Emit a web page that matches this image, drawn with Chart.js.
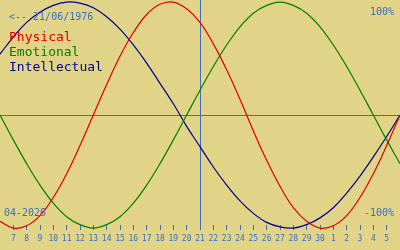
<!DOCTYPE html>
<html>
<head>
<meta charset="utf-8">
<script src="https://cdn.jsdelivr.net/npm/chart.js@4"></script>
<style>
  html, body { margin: 0; padding: 0; background: #e1d487; }
  #wrap { width: 400px; height: 250px; }
</style>
</head>
<body>
<div id="wrap"><canvas id="bioChart"></canvas></div>
<script>
// day offsets 0..30 (6 Apr 2026 .. 6 May 2026)
const days = [0, 1, 2, 3, 4, 5, 6, 7, 8, 9, 10, 11, 12, 13, 14, 15, 16, 17, 18, 19, 20, 21, 22, 23, 24, 25, 26, 27, 28, 29, 30];
const dayLabels = ['6', '7', '8', '9', '10', '11', '12', '13', '14', '15', '16', '17', '18', '19', '20', '21',
    '22', '23', '24', '25', '26', '27', '28', '29', '30', '1', '2', '3', '4', '5', '6'];

const physical = [-0.94, -1.00, -0.98, -0.89, -0.73, -0.52, -0.27, 0.00, 0.27, 0.52, 0.73, 0.89, 0.98, 1.00, 0.94,
    0.82, 0.63, 0.40, 0.14, -0.14, -0.40, -0.63, -0.82, -0.94, -1.00, -0.98, -0.89, -0.73, -0.52, -0.27, 0.00];
const emotional = [0.00, -0.22, -0.43, -0.62, -0.78, -0.90, -0.97, -1.00, -0.97, -0.90, -0.78, -0.62, -0.43, -0.22, 0.00,
    0.22, 0.43, 0.62, 0.78, 0.90, 0.97, 1.00, 0.97, 0.90, 0.78, 0.62, 0.43, 0.22, 0.00, -0.22, -0.43];
const intellectual = [0.54, 0.69, 0.82, 0.91, 0.97, 1.00, 0.99, 0.95, 0.87, 0.76, 0.62, 0.46, 0.28, 0.10, -0.10,
    -0.28, -0.46, -0.62, -0.76, -0.87, -0.95, -0.99, -1.00, -0.97, -0.91, -0.82, -0.69, -0.54, -0.37, -0.19, 0.00];

const todayIndex = 15;
const birthText = '<-- 21/06/1976';
const monthText = '04-2026';

const bg = '#e1d487';
const axisBlue = '#3b6fc4';

function series(label, values, color) {
    return {
        label: label,
        data: days.map((d, i) => ({ x: d, y: values[i] })),
        borderColor: color,
        borderWidth: 1.2,
        pointRadius: 0,
        tension: 0.4,
        clip: false,
    };
}

const overlay = {
    id: 'overlay',
    beforeDraw(chart) {
        const c = chart.ctx;
        c.save();
        c.fillStyle = bg;
        c.fillRect(0, 0, chart.width, chart.height);
        c.restore();
    },
    beforeDatasetsDraw(chart) {
        const c = chart.ctx;
        const y0 = Math.round(chart.scales.y.getPixelForValue(0)) + 0.5;
        c.save();
        c.strokeStyle = axisBlue;
        c.lineWidth = 1;
        c.beginPath();
        c.moveTo(chart.chartArea.left, y0);
        c.lineTo(chart.chartArea.right, y0);
        c.stroke();
        c.restore();
    },
    afterDatasetsDraw(chart) {
        const c = chart.ctx;
        c.save();
        c.textBaseline = 'middle';
        c.font = '10px "DejaVu Sans Mono"';
        c.fillStyle = axisBlue;
        c.textAlign = 'left';
        c.fillText(birthText, 9, 17);
        c.fillText(monthText, 4, 213);
        c.textAlign = 'right';
        c.fillText('100%', 394, 12);
        c.fillText('-100%', 394, 213);

        c.textAlign = 'left';
        c.font = '13px "DejaVu Sans Mono"';
        chart.data.datasets.forEach((ds, i) => {
            c.fillStyle = ds.borderColor;
            c.fillText(ds.label, 9, 38 + i * 15);
        });
        c.restore();
    }
};

new Chart(document.getElementById('bioChart'), {
    type: 'line',
    data: {
        datasets: [
            series('Physical', physical, '#e00000'),
            series('Emotional', emotional, '#008000'),
            series('Intellectual', intellectual, '#000090'),
        ]
    },
    options: {
        responsive: true,
        maintainAspectRatio: false,
        animation: false,
        events: [],
        layout: { padding: 0 },
        plugins: {
            legend: { display: false },
            tooltip: { enabled: false },
        },
        scales: {
            x: {
                type: 'linear',
                min: 0,
                max: 30,
                afterBuildTicks: (axis) => {
                    axis.ticks = axis.ticks.filter(t => t.value >= 1 && t.value <= 29);
                },
                afterFit: (axis) => {
                    axis.height = 25;
                },
                ticks: {
                    stepSize: 1,
                    autoSkip: false,
                    maxRotation: 0,
                    padding: 4,
                    color: axisBlue,
                    font: { family: 'DejaVu Sans Mono', size: 8 },
                    callback: (v) => dayLabels[v],
                },
                grid: {
                    drawOnChartArea: true,
                    tickLength: 5,
                    lineWidth: 1,
                    color: (ctx) => (ctx.tick && ctx.tick.value === todayIndex) ? axisBlue : 'rgba(0,0,0,0)',
                    tickColor: axisBlue,
                },
                border: { display: false },
            },
            y: {
                display: false,
                min: -0.973,
                max: 1.018,
            }
        }
    },
    plugins: [overlay]
});
</script>
</body>
</html>
